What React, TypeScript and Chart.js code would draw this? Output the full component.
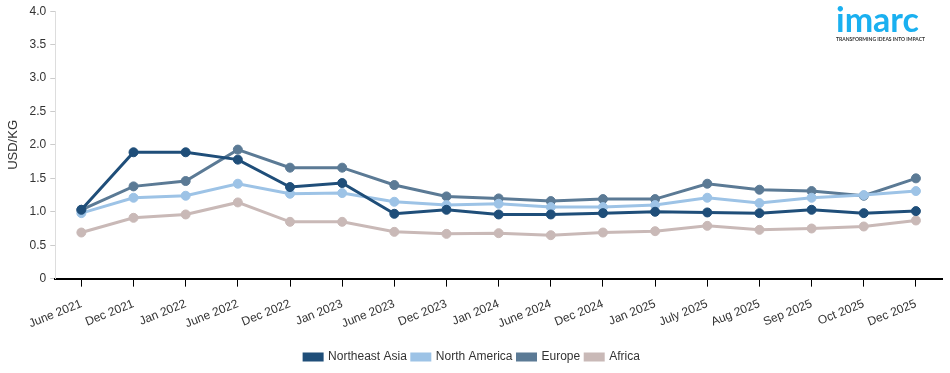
import React, { useEffect, useRef } from "react";
import { Chart, registerables } from "chart.js";

Chart.register(...registerables);

const categories = [
  "June 2021", "Dec 2021", "Jan 2022", "June 2022", "Dec 2022", "Jan 2023",
  "June 2023", "Dec 2023", "Jan 2024", "June 2024", "Dec 2024", "Jan 2025",
  "July 2025", "Aug 2025", "Sep 2025", "Oct 2025", "Dec 2025",
];

const northeastAsia = [1.03, 1.89, 1.89, 1.78, 1.37, 1.43, 0.97, 1.03, 0.96, 0.96, 0.98, 1.0, 0.99, 0.98, 1.03, 0.98, 1.01];
const northAmerica = [0.98, 1.21, 1.24, 1.42, 1.27, 1.28, 1.15, 1.1, 1.12, 1.07, 1.07, 1.1, 1.21, 1.13, 1.21, 1.25, 1.31];
const europe = [1.03, 1.38, 1.46, 1.93, 1.66, 1.66, 1.4, 1.23, 1.2, 1.16, 1.19, 1.19, 1.42, 1.33, 1.31, 1.24, 1.5];
const africa = [0.69, 0.91, 0.96, 1.14, 0.85, 0.85, 0.7, 0.67, 0.68, 0.65, 0.69, 0.71, 0.79, 0.73, 0.75, 0.78, 0.87];

const yTicks = [0, 0.5, 1.0, 1.5, 2.0, 2.5, 3.0, 3.5, 4.0];

const COLORS = {
  ne: "#1f4e79",
  na: "#9dc3e6",
  eu: "#5b7a95",
  af: "#c9b9b7",
};

const FONT = "Liberation Sans, Arial, sans-serif";

export default function App() {
  const ref = useRef<HTMLCanvasElement | null>(null);

  useEffect(() => {
    document.body.style.margin = "0";
    if (!ref.current) return;
    const mk = (label: string, data: number[], color: string) => ({
      label,
      data,
      borderColor: color,
      backgroundColor: color,
      pointBackgroundColor: color,
      pointBorderColor: color,
      pointRadius: 4.5,
      pointBorderWidth: 1,
      pointHoverRadius: 4.5,
      borderWidth: 3,
      tension: 0,
    });
    const chart = new Chart(ref.current, {
      type: "line",
      data: {
        labels: categories,
        datasets: [
          mk("Northeast Asia", northeastAsia, COLORS.ne),
          mk("North America", northAmerica, COLORS.na),
          mk("Europe", europe, COLORS.eu),
          mk("Africa", africa, COLORS.af),
        ],
      },
      options: {
        animation: false,
        responsive: false,
        maintainAspectRatio: false,
        layout: { padding: { top: 4, right: 8, left: 2, bottom: 0 } },
        plugins: {
          legend: {
            position: "bottom",
            labels: {
              boxWidth: 18,
              boxHeight: 6,
              padding: 5,
              color: "#333",
              font: { family: FONT, size: 12 },
            },
          },
          tooltip: { enabled: false },
        },
        scales: {
          x: {
            type: "category",
            offset: true,
            afterFit: (axis: any) => {
              axis.height += 5;
            },
            grid: {
              display: true,
              drawOnChartArea: false,
              drawTicks: true,
              tickLength: 8,
              color: "#000",
            },
            border: { display: true, color: "#000", width: 2 },
            ticks: {
              color: "#333",
              maxRotation: 22,
              minRotation: 22,
              autoSkip: false,
              font: { family: FONT, size: 12 },
              padding: 10,
            },
          },
          y: {
            min: 0,
            max: 4,
            afterBuildTicks: (axis: any) => {
              axis.ticks = yTicks.map((v) => ({ value: v }));
            },
            grid: {
              display: true,
              drawOnChartArea: false,
              drawTicks: true,
              tickLength: 5,
              color: "#ccc",
            },
            border: { display: true, color: "#ddd", width: 1 },
            ticks: {
              color: "#333",
              font: { family: FONT, size: 12 },
              padding: 4,
              callback: (v: any) => (v === 0 ? "0" : Number(v).toFixed(1)),
            },
            title: {
              display: true,
              text: "USD/KG",
              color: "#333",
              font: { family: FONT, size: 13 },
              padding: 4,
            },
          },
        },
      },
    });
    return () => chart.destroy();
  }, []);

  return (
    <div style={{ position: "relative", width: 950, height: 373, background: "#fff" }}>
      <canvas ref={ref} width={950} height={373} style={{ display: "block" }} />
      <div
        style={{
          position: "absolute",
          left: 836,
          top: 2,
          width: 100,
          fontFamily: "Lato, 'Liberation Sans', sans-serif",
          color: "#1ab0f0",
          textAlign: "left",
        }}
      >
        <div style={{ fontSize: 34, fontWeight: 700, lineHeight: "34px", letterSpacing: 0 }}>imarc</div>
        <div style={{ fontSize: 5, fontWeight: 700, color: "#333", lineHeight: "6px", marginTop: 0, whiteSpace: "nowrap" }}>
          TRANSFORMING IDEAS INTO IMPACT
        </div>
      </div>
    </div>
  );
}
